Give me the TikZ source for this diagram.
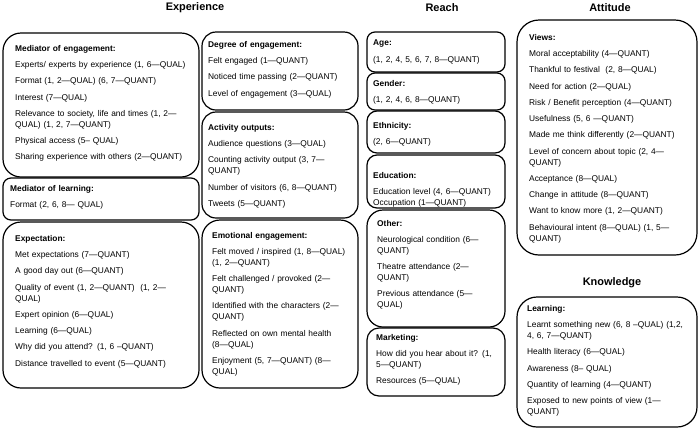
\documentclass[tikz,border=0pt]{standalone}
\usepackage{fontspec}
\setmainfont{Liberation Sans}
\newcommand{\ig}{\\[5.3bp]}
\begin{document}
\begin{tikzpicture}[x=1bp,y=-1bp,
  frame/.style={draw, line width=1.2bp, rounded corners=#1, anchor=north west, inner sep=0pt, outer sep=0pt},
  frame/.default=18bp,
  txt/.style={anchor=north west, inner sep=0pt, text width=#1, align=left, font=\fontsize{8.4}{11}\selectfont},
  txt/.default=184bp,
  head/.style={font=\fontsize{11}{12}\selectfont\bfseries, inner sep=0pt}]
\useasboundingbox (0,0) rectangle (700,431);

% headers
\node[head] (hExp) at (195,8) {Experience};
\node[head] (hReach) at (442,8) {Reach};
\node[head] (hAtt) at (610,8) {Attitude};
\node[head] (hKnow) at (612,283) {Knowledge};

% Experience column 1
\node[frame=18bp, minimum width=196bp, minimum height=144bp] (me) at (3,33) {};
\node[txt] (meT) at (15,45) {\textbf{Mediator of engagement:}\ig Experts/ experts by experience (1, 6—QUAL)\ig Format (1, 2—QUAL) (6, 7—QUANT)\ig Interest (7—QUAL)\ig Relevance to society, life and times (1, 2—\\QUAL) (1, 2, 7—QUANT)\ig Physical access (5– QUAL)\ig Sharing experience with others (2—QUANT)};

\node[frame=8bp, minimum width=196bp, minimum height=42bp] (ml) at (3,178) {};
\node[txt] (mlT) at (10,185) {\textbf{Mediator of learning:}\ig Format (2, 6, 8— QUAL)};

\node[frame=18bp, minimum width=196bp, minimum height=166bp] (ex) at (3,222) {};
\node[txt] (exT) at (15,235) {\textbf{Expectation:}\ig Met expectations (7—QUANT)\ig A good day out (6—QUANT)\ig Quality of event (1, 2—QUANT)\ \ (1, 2—\\QUAL)\ig Expert opinion (6—QUAL)\ig Learning (6—QUAL)\ig Why did you attend? (1, 6 –QUANT)\ig Distance travelled to event (5—QUANT)};

% Experience column 2
\node[frame=14bp, minimum width=156bp, minimum height=78bp] (de) at (202,32) {};
\node[txt=150bp] (deT) at (208,41) {\textbf{Degree of engagement:}\ig Felt engaged (1—QUANT)\ig Noticed time passing (2—QUANT)\ig Level of engagement (3—QUAL)};

\node[frame=14bp, minimum width=156bp, minimum height=106bp] (ao) at (202,112) {};
\node[txt=150bp] (aoT) at (208,124) {\textbf{Activity outputs:}\ig Audience questions (3—QUAL)\ig Counting activity output (3, 7—\\QUANT)\ig Number of visitors (6, 8—QUANT)\ig Tweets (5—QUANT)};

\node[frame=18bp, minimum width=156bp, minimum height=168bp] (ee) at (202,220) {};
\node[txt=146bp] (eeT) at (212,232) {\textbf{Emotional engagement:}\ig Felt moved / inspired (1, 8—QUAL)\\(1, 2—QUANT)\ig Felt challenged / provoked (2—\\QUANT)\ig Identified with the characters (2—\\QUANT)\ig Reflected on own mental health\\(8—QUAL)\ig Enjoyment (5, 7—QUANT) (8—\\QUAL)};

% Reach
\node[frame=8bp, minimum width=138bp, minimum height=40bp] (age) at (367,32) {};
\node[txt=134bp] (ageT) at (373,40) {\textbf{Age:}\ig (1, 2, 4, 5, 6, 7, 8—QUANT)};

\node[frame=8bp, minimum width=138bp, minimum height=37bp] (gen) at (367,73) {};
\node[txt=134bp] (genT) at (373,80) {\textbf{Gender:}\ig (1, 2, 4, 6, 8—QUANT)};

\node[frame=10bp, minimum width=138bp, minimum height=42bp] (eth) at (367,111) {};
\node[txt=134bp] (ethT) at (373,122) {\textbf{Ethnicity:}\ig (2, 6—QUANT)};

\node[frame=10bp, minimum width=138bp, minimum height=53bp] (edu) at (367,155) {};
\node[txt=134bp] (eduT) at (373,172) {\textbf{Education:}\ig Education level (4, 6—QUANT)\\Occupation (1—QUANT)};

\node[frame=16bp, minimum width=138bp, minimum height=117bp] (oth) at (367,210) {};
\node[txt=130bp] (othT) at (377,220) {\textbf{Other:}\ig Neurological condition (6—\\QUANT)\ig Theatre attendance (2—\\QUANT)\ig Previous attendance (5—\\QUAL)};

\node[frame=12bp, minimum width=138bp, minimum height=68bp] (mkt) at (367,328) {};
\node[txt=131bp] (mktT) at (376,334) {\textbf{Marketing:}\ig How did you hear about it? (1,\\5—QUANT)\ig Resources (5—QUAL)};

% Attitude
\node[frame=22bp, minimum width=180bp, minimum height=235bp] (vw) at (517,20) {};
\node[txt=168bp] (vwT) at (529,34) {\textbf{Views:}\ig Moral acceptability (4—QUANT)\ig Thankful to festival\ \ (2, 8—QUAL)\ig Need for action (2—QUAL)\ig Risk / Benefit perception (4—QUANT)\ig Usefulness (5, 6 —QUANT)\ig Made me think differently (2—QUANT)\ig Level of concern about topic (2, 4—\\QUANT)\ig Acceptance (8—QUAL)\ig Change in attitude (8—QUANT)\ig Want to know more (1, 2—QUANT)\ig Behavioural intent (8—QUAL) (1, 5—\\QUANT)};

% Knowledge
\node[frame=20bp, minimum width=180bp, minimum height=130bp] (lrn) at (517,297) {};
\node[txt=170bp] (lrnT) at (527,305) {\textbf{Learning:}\ig Learnt something new (6, 8 –QUAL) (1,2,\\4, 6, 7—QUANT)\ig Health literacy (6—QUAL)\ig Awareness (8– QUAL)\ig Quantity of learning (4—QUANT)\ig Exposed to new points of view (1—\\QUANT)};
\end{tikzpicture}
\end{document}
